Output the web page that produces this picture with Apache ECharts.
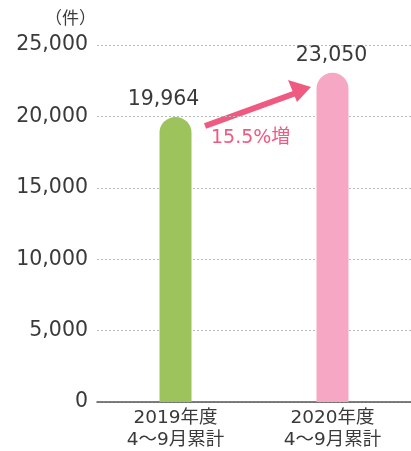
<!DOCTYPE html>
<html><head><meta charset="utf-8">
<script src="https://cdn.jsdelivr.net/npm/echarts@6/dist/echarts.min.js"></script>
<style>html,body{margin:0;padding:0;background:#fff}#c{width:411px;height:451px}</style>
</head><body><div id="c"></div>
<script>
const categories = ['2019年度\n4〜9月累計', '2020年度\n4〜9月累計'];
const values = [19964, 23050];
const barColors = ['#9dc35c', '#f6a7c3'];
const yTicks = [0, 5000, 10000, 15000, 20000, 25000];
const unitLabel = '（件）';
const growthLabel = '15.5%増';

const font = '"DejaVu Sans", "Noto Sans CJK JP", sans-serif';
const chart = echarts.init(document.getElementById('c'));
chart.setOption({
  animation: false,
  grid: { left: 97, top: 45, width: 320, height: 358, containLabel: false },
  xAxis: {
    type: 'category', data: categories,
    axisLine: { lineStyle: { color: '#555', width: 1.5 } },
    axisTick: { show: false },
    axisLabel: { color: '#3a3a3a', fontSize: 18.5, fontFamily: font, lineHeight: 22, margin: 5 }
  },
  yAxis: {
    type: 'value', min: yTicks[0], max: yTicks[yTicks.length - 1], interval: 5000,
    axisLine: { show: false }, axisTick: { show: false },
    axisLabel: { color: '#3a3a3a', fontSize: 20.5, fontFamily: font, margin: 9,
      formatter: v => v.toLocaleString('en-US') },
    splitLine: { lineStyle: { color: '#bbb', type: [2, 2], width: 1 } }
  },
  series: [{
    type: 'bar', barWidth: 32,
    data: values.map((v, i) => ({
      value: v,
      itemStyle: { color: barColors[i], borderRadius: [16, 16, 0, 0] },
      label: { offset: i === 0 ? [-12, 0] : [-1, 0] }
    })),
    label: { show: true, position: 'top', distance: 7, color: '#3a3a3a', fontSize: 20.5, fontFamily: font,
      formatter: p => p.value.toLocaleString('en-US') }
  }],
  graphic: [
    { type: 'text', left: 45, top: 11, style: { text: unitLabel, fill: '#3a3a3a', font: '17px ' + font } },
    { type: 'line', shape: { x1: 205, y1: 126, x2: 296, y2: 93 }, style: { stroke: '#ef5a80', lineWidth: 6 } },
    { type: 'polygon', shape: { points: [[311, 87], [288, 80], [297, 102]] }, style: { fill: '#ef5a80' } },
    { type: 'text', left: 211, top: 129, style: { text: growthLabel, fill: '#ef5a80', font: '19px ' + font } }
  ]
});
</script></body></html>
